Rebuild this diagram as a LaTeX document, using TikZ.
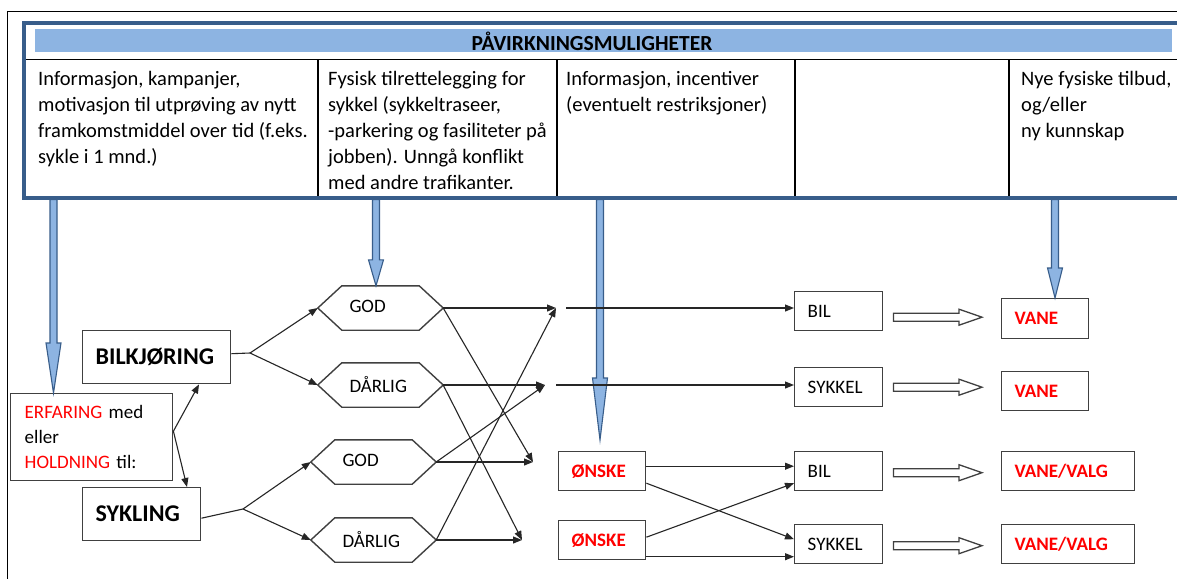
\documentclass[tikz,border=0pt]{standalone}
\usepackage{fontspec}
\setmainfont{Carlito}
\usetikzlibrary{arrows.meta,calc}
\definecolor{bandblue}{RGB}{141,180,226}
\definecolor{darkblue}{RGB}{56,93,138}
\definecolor{linegray}{RGB}{38,38,38}
\definecolor{boxgray}{RGB}{64,64,64}
\definecolor{txtred}{RGB}{255,0,0}
\newcommand\bluearr[2]{%
  \draw[barrow] let \p1=(#1), \p2=(tb) in
    (\x1-3.5pt,\y2) -- (\x1-3.5pt,\y1+#2pt) -- (\x1-7.5pt,\y1+#2pt) -- (\x1,\y1)
    -- (\x1+7.5pt,\y1+#2pt) -- (\x1+3.5pt,\y1+#2pt) -- (\x1+3.5pt,\y2) -- cycle;}
\newcommand\hollowarr[2]{%
  \draw[hollow] let \p1=(#1), \p2=(#2) in
    (\x1,\y1+4pt) -- (\x2-23pt,\y1+4pt) -- (\x2-23pt,\y1+8pt) -- (\x2,\y1)
    -- (\x2-23pt,\y1-8pt) -- (\x2-23pt,\y1-4pt) -- (\x1,\y1-4pt) -- cycle;}
\newcommand\hexa[1]{%
  \draw[hexline] (#1.west) -- ($(#1.north west)+(24,0)$) -- ($(#1.north east)+(-24,0)$)
    -- (#1.east) -- ($(#1.south east)+(-24,0)$) -- ($(#1.south west)+(24,0)$) -- cycle;}
\begin{document}
\begin{tikzpicture}[x=1pt,y=-1pt,
  every node/.style={font=\fontsize{19}{23}\selectfont, text=black},
  box/.style={draw=boxgray, line width=1.4pt, anchor=north west, inner xsep=13pt, inner ysep=0pt, align=left},
  big/.style={font=\fontsize{24}{28}\selectfont\bfseries},
  redb/.style={font=\fontsize{19}{23}\selectfont\bfseries, text=txtred},
  hexn/.style={minimum height=44pt, inner xsep=31.5pt, inner ysep=0pt, text width=62pt, align=left},
  hexline/.style={draw=boxgray, line width=1.4pt},
  conn/.style={draw=linegray, line width=1.1pt},
  arr/.style={conn, -{Triangle[length=9pt,width=7pt]}},
  barrow/.style={fill=bandblue, draw=darkblue, line width=1.1pt},
  hollow/.style={fill=white, draw=boxgray, line width=1.3pt},
  coltext/.style={anchor=north west, inner sep=0pt, align=left, font=\fontsize{20.5}{26}\selectfont}
]
\clip (0,0) rectangle (1177,578);
\fill[white] (0,0) rectangle (1177,578);
% outer frame
\draw[line width=1pt] (7,12) -- (1190,12);
\draw[line width=1pt] (7.5,12) -- (7.5,590);
% table
\fill[bandblue] (35,29) rectangle (1172,52);
\node[font=\fontsize{21.5}{24}\selectfont\bfseries] (hdr) at (592,41) {PÅVIRKNINGSMULIGHETER};
\draw[line width=1.3pt] (24,59.5) -- (1195,59.5);
\foreach \x in {318,557,795,1009} \draw[line width=1.1pt] (\x,59.5) -- (\x,198);
\draw[darkblue, line width=3.5pt] (24,23) rectangle (1200,198);
\coordinate (tb) at (0,199.5);
\node[coltext] (c1) at (38,71) {Informasjon, kampanjer,\\motivasjon til utprøving av nytt\\framkomstmiddel over\hspace{5pt}tid (f.eks.\\sykle i 1 mnd.)};
\node[coltext] (c2) at (328,71) {Fysisk tilrettelegging\hspace{5pt}for\\sykkel (sykkeltraseer,\\-parkering og fasiliteter på\\jobben). Unngå konflikt\\med andre trafikanter.};
\node[coltext] (c3) at (566,71) {Informasjon, incentiver\\(eventuelt restriksjoner)};
\node[coltext] (c5) at (1021,71) {Nye fysiske tilbud,\\og/eller\\ny kunnskap};
% boxes
\node[box, big, text width=122pt, minimum height=53pt] (bilk) at (82,330) {BILKJØRING};
\node[box, big, text width=92pt, minimum height=53pt] (sykl) at (82,487) {SYKLING};
\node[box, text width=134pt, minimum height=87pt, inner xsep=14pt, font=\fontsize{19}{25}\selectfont] (erf) at (10,393) {\textcolor{txtred}{ERFARING} med\\eller\\\textcolor{txtred}{HOLDNING} til:};
\node[box, text width=62pt, minimum height=39pt] (bil1) at (794,291) {BIL};
\node[box, text width=62pt, minimum height=39pt] (syk1) at (794,367) {SYKKEL};
\node[box, text width=62pt, minimum height=39pt] (bil2) at (794,451) {BIL};
\node[box, text width=62pt, minimum height=39pt] (syk2) at (794,524) {SYKKEL};
\node[box, redb, text width=61pt, minimum height=39pt] (on1) at (558,451) {ØNSKE};
\node[box, redb, text width=61pt, minimum height=39pt] (on2) at (558,520) {ØNSKE};
\node[box, redb, text width=61pt, minimum height=40pt] (vane1) at (1001,298) {VANE};
\node[box, redb, text width=61pt, minimum height=39pt] (vane2) at (1001,371) {VANE};
\node[box, redb, text width=107pt, minimum height=39pt] (vv1) at (1001,451) {VANE/VALG};
\node[box, redb, text width=107pt, minimum height=39pt] (vv2) at (1001,524) {VANE/VALG};
% hexagons
\node[hexn] (god1) at (380.5,308) {\raisebox{3pt}{GOD}};
\node[hexn] (dar1) at (380.5,385) {DÅRLIG};
\node[hexn] (god2) at (373.5,462) {\raisebox{3pt}{GOD}};
\node[hexn] (dar2) at (373.5,540) {DÅRLIG};
\hexa{god1}\hexa{dar1}\hexa{god2}\hexa{dar2}
% blue arrows
\coordinate (t1) at ($(erf.north west)+(43.5,0)$);
\coordinate (t2) at ($(god1.north)+(-4.5,0)$);
\coordinate (t3) at (600,440);
\coordinate (t4) at ($(vane1.north west)+(54,0)$);
\bluearr{t1}{50}
\bluearr{t2}{26}
\bluearr{t3}{62}
\bluearr{t4}{30}
% left connectors
\coordinate (e0) at ($(erf.east)+(0,-6)$);
\draw[arr] (e0) -- ($(bilk.south west)+(117,0)$);
\draw[arr] (e0) -- ($(sykl.north west)+(105,0)$);
\coordinate (b1) at (250,353);
\coordinate (b2) at (243,509);
\draw[conn] ($(bilk.east)+(0,-3.5)$) -- (b1);
\draw[arr] (b1) -- (god1.west);
\draw[arr] (b1) -- (dar1.west);
\draw[conn] ($(sykl.east)+(0,4)$) -- (b2);
\draw[arr] (b2) -- (god2.west);
\draw[arr] (b2) -- (dar2.west);
% crossing
\coordinate (r1) at (556,308);
\coordinate (r2) at (545,385);
\coordinate (r3) at (533,462);
\coordinate (r4) at (522,540);
\draw[arr] (god1.east) -- (r1);
\draw[arr] (god1.east) -- (r3);
\draw[arr] (dar1.east) -- (r2);
\draw[arr] (dar1.east) -- (r4);
\draw[arr] (god2.east) -- (r3);
\draw[arr] (god2.east) -- (r2);
\draw[arr] (dar2.east) -- (r4);
\draw[arr] (dar2.east) -- (r1);
\coordinate (l1) at (566,308);
\coordinate (l2) at (556,385);
\draw[arr] (l1) -- (l1 -| bil1.west);
\draw[arr] (l2) -- (l2 -| syk1.west);
% ønske connectors
\draw[arr] ($(on1.east)+(0,-5)$) -- ($(bil2.west)+(0,-5)$);
\draw[arr] ($(on1.east)+(0,12)$) -- ($(syk2.west)+(0,-5)$);
\draw[arr] ($(on2.east)+(0,-3)$) -- ($(bil2.west)+(0,12)$);
\draw[arr] ($(on2.east)+(0,16.5)$) -- ($(syk2.west)+(0,12.5)$);
% hollow arrows
\hollowarr{$(bil1.east)+(10,6)$}{$(vane1.west)+(-19,0)$}
\hollowarr{$(syk1.east)+(10,0)$}{$(vane2.west)+(-19,0)$}
\hollowarr{$(bil2.east)+(10,1.5)$}{$(vv1.west)+(-19,0)$}
\hollowarr{$(syk2.east)+(10,1.5)$}{$(vv2.west)+(-19,0)$}
\end{tikzpicture}
\end{document}
